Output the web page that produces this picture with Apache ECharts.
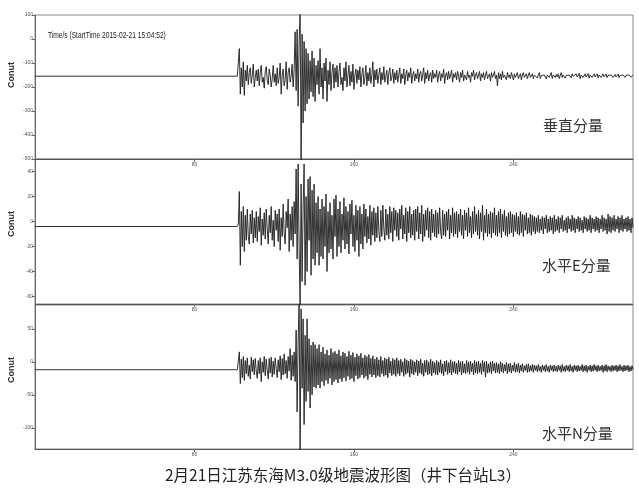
<!DOCTYPE html>
<html><head><meta charset="utf-8">
<script src="https://cdn.jsdelivr.net/npm/echarts@6/dist/echarts.min.js"></script>
<style>html,body{margin:0;padding:0;background:#fff}#c{width:639px;height:489px}</style>
</head><body><div id="c"></div><script>
// sampling of the event section (seconds)
const startTime = 101.5;
const sampleStep = 0.5;
// pre-event (quiet) level of each trace
const zQuiet = -155, eQuiet = -4, nQuiet = -12;

// 垂直分量 (Z)
const zValues = [
-155,-150,-40,-230,-120,-200,-95,-235,-130,-175,-110,-190,-140,-120,-185,-150,-105,-200,-160,-130,
-175,-125,-195,-140,-110,-180,-160,-205,-135,-115,-170,-190,-125,-150,-200,-165,-110,-180,-145,-195,
-120,-185,-160,-100,-230,-150,-125,-195,-170,-95,-210,-140,-120,-180,-155,-105,-200,-130,30,-215,
40,-280,-20,120,-520,20,-350,-10,-300,-40,-270,-60,-250,-90,-220,-50,-240,-80,-260,-110,
-190,-90,-230,-40,-200,-120,-250,-100,-175,-80,-260,-130,-190,-95,-215,-140,-105,-205,-120,-180,
-110,-200,-140,-100,-190,-160,-215,-120,-175,-95,-200,-150,-110,-195,-135,-180,-105,-210,-150,-125,
-185,-130,-170,-115,-200,-145,-120,-190,-160,-110,-195,-140,-175,-120,-185,-150,-95,-200,-130,-170,
-125,-185,-150,-120,-190,-140,-170,-115,-180,-155,-130,-190,-145,-120,-175,-160,-125,-185,-140,-170,
-130,-180,-150,-120,-185,-145,-165,-125,-190,-150,-130,-175,-140,-160,-120,-185,-150,-135,-175,-145,
-165,-125,-180,-145,-135,-175,-150,-120,-185,-140,-165,-130,-175,-150,-140,-180,-130,-165,-145,-160,
-130,-180,-150,-135,-175,-145,-160,-125,-185,-150,-140,-170,-135,-165,-150,-130,-180,-145,-160,-140,
-170,-135,-155,-180,-140,-160,-130,-175,-150,-145,-170,-135,-160,-150,-180,-140,-155,-130,-170,-150,
-140,-165,-150,-135,-175,-145,-160,-140,-170,-150,-135,-165,-155,-145,-175,-140,-160,-150,-135,-165,
-150,-195,-140,-165,-145,-170,-135,-160,-150,-145,-170,-140,-160,-150,-165,-140,-155,-170,-145,-160,
-150,-140,-165,-155,-145,-170,-150,-140,-160,-155,-145,-165,-150,-140,-160,-155,-145,-165,-150,-158,
-145,-162,-150,-140,-165,-152,-145,-160,-150,-142,-166,-150,-145,-160,-155,-140,-165,-150,-147,-160,
-148,-158,-145,-165,-152,-140,-160,-150,-145,-163,-152,-144,-160,-150,-148,-162,-145,-155,-150,-160,
-145,-158,-150,-143,-165,-150,-147,-160,-152,-145,-158,-150,-144,-163,-150,-148,-160,-152,-145,-158,
-150,-145,-162,-150,-147,-160,-152,-145,-158,-150,-146,-161,-151,-147,-158,-150,-145,-160,-152,-148,
-158,-150,-146,-161,-152,-147,-157,-150,-145,-160,-151,-148,-158,-150,-146,-159,-152,-150
];

// 水平E分量 (E)
const eValues = [
-4,-2,24,-35,8,-20,12,-24,5,-15,10,-12,-18,6,-10,9,-17,3,-13,8,
-16,4,-8,11,-19,2,-11,7,-14,10,-6,-18,5,-9,12,-15,1,-20,9,-7,
6,-16,10,-23,3,-12,14,-9,-18,8,-5,18,-24,6,-15,12,-20,16,-10,42,
-30,46,-20,-70,30,-48,10,46,-51,20,-40,34,-15,36,-43,25,-30,30,-35,15,
-25,20,-35,10,-28,18,-30,12,-20,22,-40,8,-25,15,-22,5,-30,18,-12,21,
-28,10,-20,16,-25,6,-15,19,-22,12,-18,8,-26,14,-10,17,-20,5,-24,13,
-15,9,-28,12,-18,6,-22,14,-12,10,-17,4,-14,13,-19,8,-11,11,-16,7,
-13,12,-8,-16,9,-12,13,-6,-15,10,-11,6,-14,12,-9,8,-16,11,-7,9,
-12,7,-15,10,-6,13,-14,5,-10,11,-16,8,-9,12,-13,6,-11,9,-15,10,
-8,12,-14,7,-10,13,-16,6,-12,9,-7,11,-13,8,-15,10,-9,6,-12,9,
-13,7,-10,11,-8,-14,9,-11,6,-12,8,-7,10,-14,5,-9,11,-12,7,-10,
8,-13,6,-8,10,-11,5,-14,9,-7,7,-12,11,-9,4,-13,8,-10,12,-8,
6,-11,9,-14,7,-8,13,-15,5,-9,10,-12,6,-10,8,-13,7,-9,11,-11,
5,-12,8,-9,10,-13,6,-8,9,-11,4,-12,7,-10,8,-9,6,-12,5,-8,
7,-10,4,-11,8,-9,6,-12,5,-7,7,-10,3,-9,6,-11,5,-8,4,-10,
3,-8,5,-9,2,-7,4,-10,3,-6,5,-9,2,-8,4,-7,3,-10,5,-8,
2,-7,4,-9,3,-6,5,-8,1,-7,3,-9,4,-6,2,-8,5,-7,3,-9,
2,-6,4,-8,3,-7,1,-9,4,-6,3,-8,2,-7,5,-9,3,-6,2,-8,
4,-7,3,-9,2,-6,5,-8,3,-7,2,-10,6,-8,4,-9,3,-7,5,-8,
2,-6,4,-9,3,-7,5,-8,2,-6,3,-8,4,-7,2,-9,3,-5
];

// 水平N分量 (N)
const nValues = [
-12,-10,15,-33,4,-24,8,-28,2,-18,6,-22,-5,-26,7,-15,3,-20,5,-14,
-25,2,-18,6,-30,0,-16,8,-21,4,-12,-26,5,-17,7,-23,1,-19,6,-10,
-24,3,-15,9,-27,5,-20,12,-18,2,-25,8,-14,20,-28,10,-22,15,-30,48,
-76,30,95,-140,80,-40,65,-95,40,-60,65,-45,35,-70,25,-50,30,-38,26,-40,
20,-35,26,-40,15,-30,22,-36,12,-28,18,-33,10,-25,20,-35,14,-30,16,-27,
12,-32,18,-26,9,-30,15,-24,13,-29,8,-22,16,-27,10,-25,14,-30,7,-21,
12,-26,9,-24,13,-20,6,-25,10,-22,8,-27,11,-19,5,-23,9,-20,4,-24,
7,-21,3,-23,8,-18,2,-22,6,-20,4,-24,7,-17,1,-21,5,-19,3,-22,
6,-18,2,-21,4,-16,0,-22,5,-19,3,-17,1,-23,4,-18,2,-20,0,-16,
3,-21,1,-17,4,-19,-2,-22,2,-16,3,-20,0,-18,4,-21,1,-17,-1,-19,
2,-20,0,-16,3,-18,-3,-21,1,-15,2,-19,-1,-17,3,-20,0,-16,1,-18,
-2,-19,2,-15,0,-20,1,-17,-3,-18,2,-16,0,-19,1,-15,-2,-20,2,-17,
0,-18,1,-16,-2,-19,2,-15,0,-23,1,-17,-3,-16,0,-18,1,-14,-2,-17,
-1,-16,-3,-18,0,-15,-2,-17,-4,-14,-1,-18,-3,-15,-2,-17,-5,-14,-1,-16,
-4,-15,-2,-17,-5,-14,-3,-16,-6,-13,-4,-16,-3,-15,-6,-14,-4,-16,-5,-13,
-6,-15,-4,-14,-7,-16,-5,-13,-6,-15,-4,-14,-7,-16,-5,-13,-6,-15,-5,-14,
-7,-15,-5,-13,-6,-16,-4,-14,-7,-15,-5,-13,-6,-15,-4,-14,-7,-16,-5,-13,
-6,-15,-5,-14,-7,-13,-4,-15,-6,-14,-5,-16,-7,-13,-5,-15,-6,-14,-4,-13,
-6,-15,-5,-14,-7,-13,-5,-16,-6,-14,-4,-15,-6,-13,-7,-15,-5,-14,-6,-13,
-5,-15,-6,-14,-4,-13,-7,-15,-5,-14,-6,-13,-5,-15,-7,-14,-6,-12
];

const xTicks = [80, 160, 240];
const zTicks = [-500, -400, -300, -200, -100, 0, 100];
const eTicks = [-60, -40, -20, 0, 20, 40];
const nTicks = [-100, -50, 0, 50];
const componentNames = ['垂直分量', '水平E分量', '水平N分量'];
const yName = 'Conut';
const timeNote = 'Time/s (StartTime 2015-02-21 15:04:52)';
const caption = '2月21日江苏东海M3.0级地震波形图（井下台站L3）';

function toSeries(quiet, vals) {
  const d = [[0, quiet]];
  vals.forEach((v, i) => d.push([startTime + i * sampleStep, v]));
  return d;
}

const grids = [
  {left: 35, top: 15, width: 598, height: 144},
  {left: 35, top: 159, width: 598, height: 145},
  {left: 35, top: 305, width: 598, height: 144}
].map(g => Object.assign(g, {show: true, borderColor: '#8a8a8a', borderWidth: 1, containLabel: false}));

const yRanges = [[-500, 100, zTicks], [-66, 50, eTicks], [-132, 86, nTicks]];
const lab = {fontSize: 5, color: '#555', fontFamily: 'Liberation Sans'};
const nameStyle = {fontSize: 9, fontWeight: 'bold', fill: '#333', fontFamily: 'Liberation Sans', align: 'center', verticalAlign: 'middle'};

const chart = echarts.init(document.getElementById('c'), null, {renderer: 'canvas'});
chart.setOption({
  animation: false,
  backgroundColor: '#fff',
  title: {
    text: caption, left: 160, top: 462,
    textStyle: {fontSize: 15.5, fontWeight: 'normal', color: '#222', fontFamily: 'Noto Sans CJK SC'}
  },
  grid: grids,
  xAxis: [0, 1, 2].map(i => ({
    type: 'value', gridIndex: i, min: 0, max: 300,
    axisLine: {show: true, onZero: false, lineStyle: {color: '#555', width: 1}},
    axisTick: {show: true, length: 3, customValues: xTicks, lineStyle: {color: '#666'}},
    axisLabel: Object.assign({customValues: xTicks, margin: 3}, lab),
    splitLine: {show: false}
  })),
  yAxis: [0, 1, 2].map(i => ({
    type: 'value', gridIndex: i, min: yRanges[i][0], max: yRanges[i][1],
    axisLine: {show: true, onZero: false, lineStyle: {color: '#666', width: 1}},
    axisTick: {show: true, length: 3, customValues: yRanges[i][2], lineStyle: {color: '#666'}},
    axisLabel: Object.assign({customValues: yRanges[i][2], margin: 2}, lab),
    splitLine: {show: false}
  })),
  series: [[zQuiet, zValues], [eQuiet, eValues], [nQuiet, nValues]].map((s, i) => ({
    type: 'line', xAxisIndex: i, yAxisIndex: i, data: toSeries(s[0], s[1]),
    showSymbol: false, symbol: 'none', clip: true,
    lineStyle: {color: '#1c1c1c', width: 0.9}
  })),
  graphic: [
    {type: 'text', x: 48, y: 36, scaleX: 0.78, style: {text: timeNote, fontSize: 8.5, fill: '#222', fontFamily: 'Liberation Sans', verticalAlign: 'middle'}},
    {type: 'text', x: 12, y: 75, rotation: Math.PI / 2, style: Object.assign({text: yName}, nameStyle)},
    {type: 'text', x: 12, y: 224, rotation: Math.PI / 2, style: Object.assign({text: yName}, nameStyle)},
    {type: 'text', x: 12, y: 370, rotation: Math.PI / 2, style: Object.assign({text: yName}, nameStyle)},
    {type: 'text', x: 543, y: 125, style: {text: componentNames[0], fontSize: 15, fill: '#333', fontFamily: 'Noto Sans CJK SC', verticalAlign: 'middle'}},
    {type: 'text', x: 542, y: 265, style: {text: componentNames[1], fontSize: 15, fill: '#333', fontFamily: 'Noto Sans CJK SC', verticalAlign: 'middle'}},
    {type: 'text', x: 542, y: 433, style: {text: componentNames[2], fontSize: 15, fill: '#333', fontFamily: 'Noto Sans CJK SC', verticalAlign: 'middle'}}
  ]
});
</script></body></html>
